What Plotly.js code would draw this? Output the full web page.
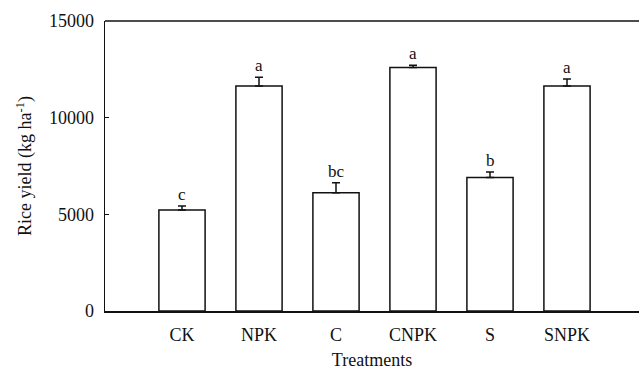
<!DOCTYPE html>
<html>
<head>
<meta charset="utf-8">
<script src="https://cdn.plot.ly/plotly-3.0.1.min.js"></script>
<style>html,body{margin:0;padding:0;background:#fff;overflow:hidden}</style>
</head>
<body>
<div id="chart" style="width:639px;height:370px"></div>
<script>
var treatments = ["CK", "NPK", "C", "CNPK", "S", "SNPK"];
var yieldMean = [5220, 11640, 6120, 12590, 6900, 11640];
var yieldErr = [210, 450, 520, 120, 290, 360];
var sigLetters = ["c", "a", "bc", "a", "b", "a"];
var yTicks = [0, 5000, 10000, 15000];

var fam = "'Liberation Serif', 'Times New Roman', serif";
var font = {family: fam, color: "#111", size: 18};

var trace = {
  type: "bar",
  x: treatments,
  y: yieldMean,
  width: 0.6,
  marker: {color: "#ffffff", line: {color: "#111", width: 1.5}},
  error_y: {type: "data", array: yieldErr, symmetric: false, arrayminus: yieldErr.map(function(){return 0;}), color: "#111", thickness: 1.5, width: 4},
  hoverinfo: "none"
};

var annotations = treatments.map(function(t, i) {
  return {
    x: t, y: yieldMean[i] + yieldErr[i], xref: "x", yref: "y",
    text: sigLetters[i], showarrow: false, yanchor: "bottom", yshift: 0,
    font: {family: fam, size: 17, color: "#111"}
  };
});

var layout = {
  width: 639, height: 370,
  margin: {l: 105, r: 0, t: 21, b: 59},
  paper_bgcolor: "#fff", plot_bgcolor: "#fff",
  font: font,
  showlegend: false,
  bargap: 0.4,
  xaxis: {
    type: "category",
    range: [-1, 5.935],
    showline: true, linecolor: "#111", linewidth: 1.5,
    ticks: "", showgrid: false, zeroline: false,
    ticklabelstandoff: 7,
    tickfont: font,
    title: {text: "Treatments", font: font, standoff: 11}
  },
  yaxis: {
    range: [0, 15000],
    tickvals: yTicks,
    ticktext: yTicks.map(String),
    showline: true, linecolor: "#111", linewidth: 1.5,
    ticks: "inside", ticklen: 4, tickcolor: "#111", tickwidth: 1.5,
    showgrid: false, zeroline: false,
    ticklabelstandoff: 6,
    tickfont: font,
    title: {text: "Rice yield (kg ha<sup>-1</sup>)", font: font, standoff: 12}
  },
  shapes: [{type: "line", xref: "paper", yref: "paper", x0: 0, x1: 1, y0: 1, y1: 1, line: {color: "#111", width: 1.5}}],
  annotations: annotations
};

Plotly.newPlot("chart", [trace], layout, {staticPlot: true, displayModeBar: false});
</script>
</body>
</html>
